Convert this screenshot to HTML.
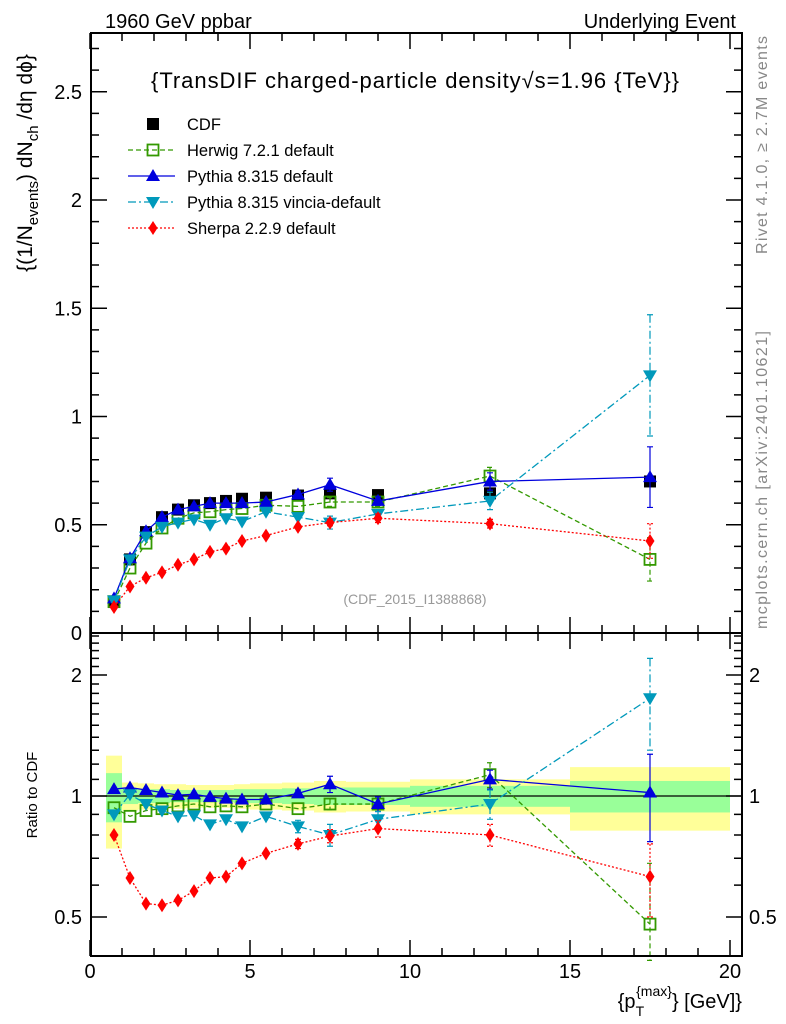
<!DOCTYPE html>
<html><head><meta charset="utf-8"><style>
html,body{margin:0;padding:0;background:#fff}
svg{display:block;font-family:"Liberation Sans",sans-serif}
</style></head><body>
<svg id="c" width="786" height="1024" viewBox="0 0 786 1024" xmlns="http://www.w3.org/2000/svg">
<g id="bands"></g><g id="grid"></g><g id="series"></g><g id="axes"></g>
<text x="105" y="28" font-size="20">1960 GeV ppbar</text>
<text x="736" y="28" font-size="20" text-anchor="end">Underlying Event</text>
<text x="415" y="88" font-size="22" text-anchor="middle" textLength="528">{TransDIF charged-particle density√s=1.96 {TeV}}</text>
<text x="415" y="604" font-size="14" fill="#999" text-anchor="middle">(CDF_2015_I1388868)</text>
<text transform="translate(767,145) rotate(-90)" font-size="16" fill="#888" text-anchor="middle" textLength="218">Rivet 4.1.0, ≥ 2.7M events</text>
<text transform="translate(767,480) rotate(-90)" font-size="16" fill="#888" text-anchor="middle" textLength="298">mcplots.cern.ch [arXiv:2401.10621]</text>
<text transform="translate(32,163) rotate(-90)" font-size="21" text-anchor="middle">{(1/N<tspan font-size="15" dy="6">events</tspan><tspan dy="-6">) dN</tspan><tspan font-size="15" dy="6">ch</tspan><tspan dy="-6"> /dη  dϕ}</tspan></text>
<text transform="translate(37,795) rotate(-90)" font-size="15" text-anchor="middle">Ratio to CDF</text>
<text x="742" y="1008" font-size="20" text-anchor="end">{p<tspan font-size="14" dy="8">T</tspan><tspan font-size="14" dy="-20" dx="-8">{max}</tspan><tspan dy="12">} [GeV]}</tspan></text>
<g id="legend"></g>
</svg>
<script>
const xCenters=[0.75,1.25,1.75,2.25,2.75,3.25,3.75,4.25,4.75,5.5,6.5,7.5,9,12.5,17.5];
const binEdges=[0.5,1,1.5,2,2.5,3,3.5,4,4.5,5,6,7,8,10,15,20];
const cdfVals=[0.143,0.34,0.466,0.535,0.57,0.59,0.60,0.61,0.62,0.625,0.635,0.645,0.637,0.645,0.70];
const herwigVals=[0.145,0.30,0.415,0.485,0.53,0.555,0.56,0.57,0.575,0.59,0.585,0.605,0.605,0.725,0.34];
const pythiaVals=[0.16,0.345,0.47,0.535,0.57,0.585,0.60,0.60,0.60,0.605,0.64,0.685,0.61,0.70,0.72];
const vinciaVals=[0.15,0.34,0.445,0.49,0.51,0.525,0.50,0.53,0.515,0.56,0.535,0.51,0.55,0.61,1.19];
const sherpaVals=[0.12,0.215,0.255,0.28,0.315,0.34,0.375,0.39,0.425,0.45,0.49,0.51,0.53,0.505,0.425];
const herwigRatio=[0.935,0.89,0.92,0.93,0.945,0.955,0.94,0.945,0.94,0.955,0.93,0.955,0.955,1.13,0.48];
const pythiaRatio=[1.04,1.05,1.035,1.02,1.005,1.01,0.995,0.985,0.98,0.98,1.015,1.07,0.955,1.1,1.02];
const vinciaRatio=[0.9,1.01,0.955,0.92,0.89,0.895,0.85,0.875,0.84,0.89,0.84,0.8,0.875,0.955,1.75];
const sherpaRatio=[0.80,0.625,0.54,0.535,0.55,0.58,0.625,0.63,0.68,0.72,0.76,0.795,0.83,0.80,0.63];
const mainErr={herwig:[0,0,0,0,0,0,0,0,0,0,0,0.02,0.02,0.04,0.1],pythia:[0,0,0,0,0,0,0,0.01,0,0,0.015,0.03,0.02,0.04,0.14],vincia:[0,0,0,0,0,0,0,0,0,0,0,0.03,0.02,0.04,0.28],sherpa:[0,0,0,0,0,0,0,0,0,0,0,0.015,0.02,0.02,0.08]};
const ratioErr={herwig:[0,0,0,0,0,0,0,0,0,0,0,0.03,0.03,0.08,0.2],pythia:[0,0,0,0,0,0,0.02,0.05,0.04,0.06,0.02,0.05,0.04,0.06,0.25].map((v,i)=>i<10?0:v),vincia:[0,0,0,0,0,0,0,0,0,0,0.03,0.05,0.04,0.08,0.45],sherpa:[0,0,0,0,0,0,0,0,0,0,0.02,0.03,0.04,0.05,0.13]};
const yellowHalf=[0.26,0.08,0.075,0.07,0.07,0.065,0.065,0.065,0.07,0.075,0.08,0.09,0.085,0.1,0.18];
const greenHalf=[0.14,0.045,0.04,0.04,0.035,0.035,0.035,0.035,0.04,0.04,0.045,0.05,0.05,0.06,0.09];
const mainTicks=[0,0.5,1,1.5,2,2.5];
const mainTickLabels=["0","0.5","1","1.5","2","2.5"];
const xTicks=[0,5,10,15,20];
const ratioTicks=[0.5,1,2];

const NS="http://www.w3.org/2000/svg";
const L=91,R=742,T=33,M=633,B=956;
const X=v=>90+32*v;
const Y=v=>633-216.5*v;
const YR=v=>796-121*Math.log2(v);
function mk(tag,attrs,parent){const e=document.createElementNS(NS,tag);for(const k in attrs)e.setAttribute(k,attrs[k]);document.getElementById(parent).appendChild(e);return e;}

for(let i=0;i<xCenters.length;i++){
 let r=mk('rect',{x:X(binEdges[i]),width:X(binEdges[i+1])-X(binEdges[i]),y:YR(1+yellowHalf[i]),height:YR(1-yellowHalf[i])-YR(1+yellowHalf[i]),fill:'#ffff99'},'bands');
 
 
 let g=mk('rect',{x:X(binEdges[i]),width:X(binEdges[i+1])-X(binEdges[i]),y:YR(1+greenHalf[i]),height:YR(1-greenHalf[i])-YR(1+greenHalf[i]),fill:'#99ff99'},'bands');
 
 
}
let ref=mk('line',{x1:L,x2:R,y1:YR(1),y2:YR(1),stroke:'#000','stroke-width':1.2},'bands');



function marker(type,x,y,color,parent){
 let e;
 if(type==='sq') e=mk('rect',{x:x-6,y:y-6,width:12,height:12,fill:'#000'},parent);
 else if(type==='osq') e=mk('rect',{x:x-5.5,y:y-5.5,width:11,height:11,fill:'#fff','fill-opacity':0,stroke:color,'stroke-width':1.8},parent);
 else if(type==='up') e=mk('polygon',{points:`${x},${y-7} ${x-7},${y+5} ${x+7},${y+5}`,fill:color},parent);
 else if(type==='dn') e=mk('polygon',{points:`${x},${y+7} ${x-7},${y-5} ${x+7},${y-5}`,fill:color},parent);
 else e=mk('polygon',{points:`${x},${y-7} ${x-4.5},${y} ${x},${y+7} ${x+4.5},${y}`,fill:color},parent);
 return e;
}
const specs=[
 {n:'herwig',c:'#339900',dash:'5,3',w:1.3,m:'osq',v:herwigVals,r:herwigRatio,label:'Herwig 7.2.1 default'},
 {n:'pythia',c:'#0000dd',dash:'',w:1.3,m:'up',v:pythiaVals,r:pythiaRatio,label:'Pythia 8.315 default'},
 {n:'vincia',c:'#0099bb',dash:'8,3,2,3',w:1.3,m:'dn',v:vinciaVals,r:vinciaRatio,label:'Pythia 8.315 vincia-default'},
 {n:'sherpa',c:'#ff0000',dash:'2,2',w:1.3,m:'dia',v:sherpaVals,r:sherpaRatio,label:'Sherpa 2.2.9 default'}];

for(let i=0;i<xCenters.length;i++){
 let e=marker('sq',X(xCenters[i]),Y(cdfVals[i]),'#000','series');
 
 
}
for(const s of specs){
 let p=mk('polyline',{points:xCenters.map((x,i)=>X(x)+','+Y(s.v[i])).join(' '),fill:'none',stroke:s.c,'stroke-width':s.w,'stroke-dasharray':s.dash},'series');
 
 
 let pr=mk('polyline',{points:xCenters.map((x,i)=>X(x)+','+YR(s.r[i])).join(' '),fill:'none',stroke:s.c,'stroke-width':s.w,'stroke-dasharray':s.dash},'series');
 
 
 for(let i=0;i<xCenters.length;i++){
  const x=X(xCenters[i]);
  const em=mainErr[s.n][i], er=ratioErr[s.n][i];
  if(em>0){let l=mk('path',{d:`M${x},${Y(s.v[i]+em)}V${Y(Math.max(s.v[i]-em,0.001))}M${x-3},${Y(s.v[i]+em)}h6M${x-3},${Y(Math.max(s.v[i]-em,0.001))}h6`,stroke:s.c,'stroke-width':1.2,'stroke-dasharray':s.dash,fill:'none'},'series');
   
   }
  if(er>0){const lo=Math.max(s.r[i]-er,0.39);let l=mk('path',{d:`M${x},${YR(s.r[i]+er)}V${YR(lo)}M${x-3},${YR(s.r[i]+er)}h6M${x-3},${YR(lo)}h6`,stroke:s.c,'stroke-width':1.2,'stroke-dasharray':s.dash,fill:'none'},'series');
   
   }
  let e=marker(s.m,x,Y(s.v[i]),s.c,'series');
  
  
  let e2=marker(s.m,x,YR(s.r[i]),s.c,'series');
  
  
 }
}

let f1=mk('rect',{x:L,y:T,width:R-L,height:M-T,fill:'none',stroke:'#000','stroke-width':2},'axes');


let f2=mk('rect',{x:L,y:M,width:R-L,height:B-M,fill:'none',stroke:'#000','stroke-width':2},'axes');


let d='';
for(let v=0;v<=20;v+=1){const x=X(v);const len=v%5===0?16:8;
 d+=`M${x},${T}v${len}M${x},${M}v${-len}M${x},${M}v${len}M${x},${B}v${-len}`;}
for(let v=0;v<=2.75;v+=0.1){const y=Y(v);const len=(Math.round(v*10)%5===0)?16:8;if(y<T)continue;
 d+=`M${L},${y}h${len}M${R},${y}h${-len}`;}
const rminor=[0.4,0.5,0.6,0.7,0.8,0.9,1,1.1,1.2,1.3,1.4,1.5,1.6,1.7,1.8,1.9,2,2.1,2.2,2.3,2.4,2.5];
for(const v of rminor){const y=YR(v);if(y<M||y>B)continue;const len=ratioTicks.includes(v)?16:8;
 d+=`M${L},${y}h${len}M${R},${y}h${-len}`;}
let tk=mk('path',{d:d,stroke:'#000','stroke-width':1.5,fill:'none'},'axes');


mainTicks.forEach((v,i)=>{let t=mk('text',{x:82,y:Y(v)+7,'font-size':20,'text-anchor':'end'},'axes');t.textContent=mainTickLabels[i];
 
 });
ratioTicks.forEach(v=>{let t=mk('text',{x:82,y:YR(v)+7,'font-size':20,'text-anchor':'end'},'axes');t.textContent=String(v);
 
 
 let t2=mk('text',{x:749,y:YR(v)+7,'font-size':20},'axes');t2.textContent=String(v);
 
 });
xTicks.forEach(v=>{let t=mk('text',{x:X(v),y:978,'font-size':20,'text-anchor':'middle'},'axes');t.textContent=String(v);
 
 });

const lx1=128,lx2=175,mx=153,tx=187;
let cy=124;
let cm=marker('sq',mx,cy,'#000','legend');


let ct=mk('text',{x:tx,y:cy+6,'font-size':16.5},'legend');ct.textContent='CDF';


specs.forEach((s,i)=>{const y=150+26*i;
 let l=mk('line',{x1:lx1,x2:lx2,y1:y,y2:y,stroke:s.c,'stroke-width':1.3,'stroke-dasharray':s.dash},'legend');
 
 
 let m=marker(s.m,mx,y,s.c,'legend');
 
 
 let t=mk('text',{x:tx,y:y+6,'font-size':16.5},'legend');t.textContent=s.label;
 
 
});
</script>
</body></html>
